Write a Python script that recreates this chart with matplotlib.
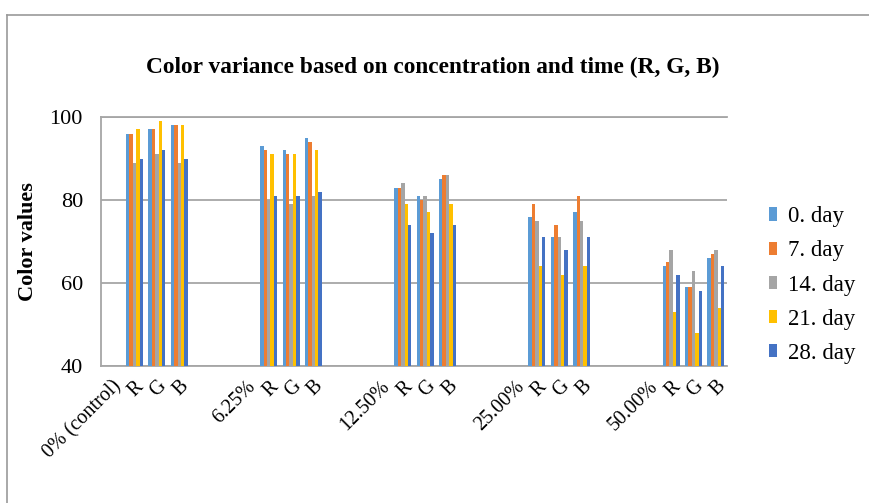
import matplotlib
matplotlib.use("Agg")
import matplotlib.pyplot as plt
from matplotlib.lines import Line2D
import numpy as np

concentrations = ["0% (control)", "6.25%", "12.50%", "25.00%", "50.00%"]
channels = ["R", "G", "B"]
series_names = ["0. day", "7. day", "14. day", "21. day", "28. day"]
day0 = [96, 97, 98, 93, 92, 95, 83, 81, 85, 76, 71, 77, 64, 59, 66]
day7 = [96, 97, 98, 92, 91, 94, 83, 80, 86, 79, 74, 81, 65, 59, 67]
day14 = [89, 91, 89, 80, 79, 81, 84, 81, 86, 75, 71, 75, 68, 63, 68]
day21 = [97, 99, 98, 91, 91, 92, 79, 77, 79, 64, 62, 64, 53, 48, 54]
day28 = [90, 92, 90, 81, 81, 82, 74, 72, 74, 71, 68, 71, 62, 58, 64]
series = [day0, day7, day14, day21, day28]
colors = ["#5B9BD5", "#ED7D31", "#A5A5A5", "#FFC000", "#4472C4"]
yticks = [40, 60, 80, 100]

serif = "Liberation Serif"
W, H = 869, 503
fig = plt.figure(figsize=(W / 100, H / 100), dpi=100)
ax = fig.add_axes([101 / W, 1 - 366 / H, (727 - 101) / W, (366 - 117) / H])

# category layout: [label, R, G, B, empty, empty] per concentration
slots = 6
n_cat = slots * (len(concentrations) - 1) + 4
cat_labels = [""] * n_cat
for k, c in enumerate(concentrations):
    cat_labels[k * slots] = c
    for j, ch in enumerate(channels):
        cat_labels[k * slots + 1 + j] = ch

pos = np.array([k * slots + 1 + j for k in range(len(concentrations)) for j in range(len(channels))], dtype=float)
group_w = 0.76
bw = group_w / len(series)
for i, (vals, name, col) in enumerate(zip(series, series_names, colors)):
    ax.bar(pos - group_w / 2 + bw * (i + 0.5), vals, width=bw, color=col, label=name, zorder=3, linewidth=0)

ax.set_xlim(-0.5, n_cat - 0.5)
ax.set_ylim(40, 100)
ax.set_yticks(yticks)
ax.set_yticklabels([str(v) for v in yticks], fontfamily=serif, fontsize=16)
ax.set_xticks(np.arange(n_cat))
ax.set_xticklabels(cat_labels, fontfamily=serif, fontsize=14.5, rotation=45, ha="right", va="top",
                   rotation_mode="anchor")
ax.tick_params(axis="both", length=0)
ax.tick_params(axis="y", pad=13)
ax.tick_params(axis="x", pad=8)
ax.grid(axis="y", color="#a6a6a6", linewidth=1.3, zorder=0)
ax.spines["right"].set_visible(False)
for s in ["left", "bottom", "top"]:
    ax.spines[s].set_color("#a6a6a6")
    ax.spines[s].set_linewidth(1.3)

ax.set_ylabel("Color values", fontfamily=serif, fontsize=16, fontweight="bold")
ax.yaxis.set_label_coords((38 - 101) / (727 - 101), 0.5)

fig.text(0.498, 1 - 67 / H, "Color variance based on concentration and time (R, G, B)",
         ha="center", va="center", fontfamily=serif, fontsize=16.8, fontweight="bold")

leg = fig.legend(loc="upper left", bbox_to_anchor=(760 / W, 1 - 197 / H), frameon=False,
                 prop={"family": serif, "size": 16.5}, handlelength=0.35, handleheight=0.5,
                 handletextpad=0.45, labelspacing=0.575, borderaxespad=0)

# outer chart frame
fig.add_artist(Line2D([7 / W, 7 / W], [0, 1 - 15 / H], transform=fig.transFigure, color="#9a9a9a", linewidth=1.2))
fig.add_artist(Line2D([7 / W, 1], [1 - 15 / H, 1 - 15 / H], transform=fig.transFigure, color="#9a9a9a", linewidth=1.2))

fig.savefig("out.png", dpi=100)
